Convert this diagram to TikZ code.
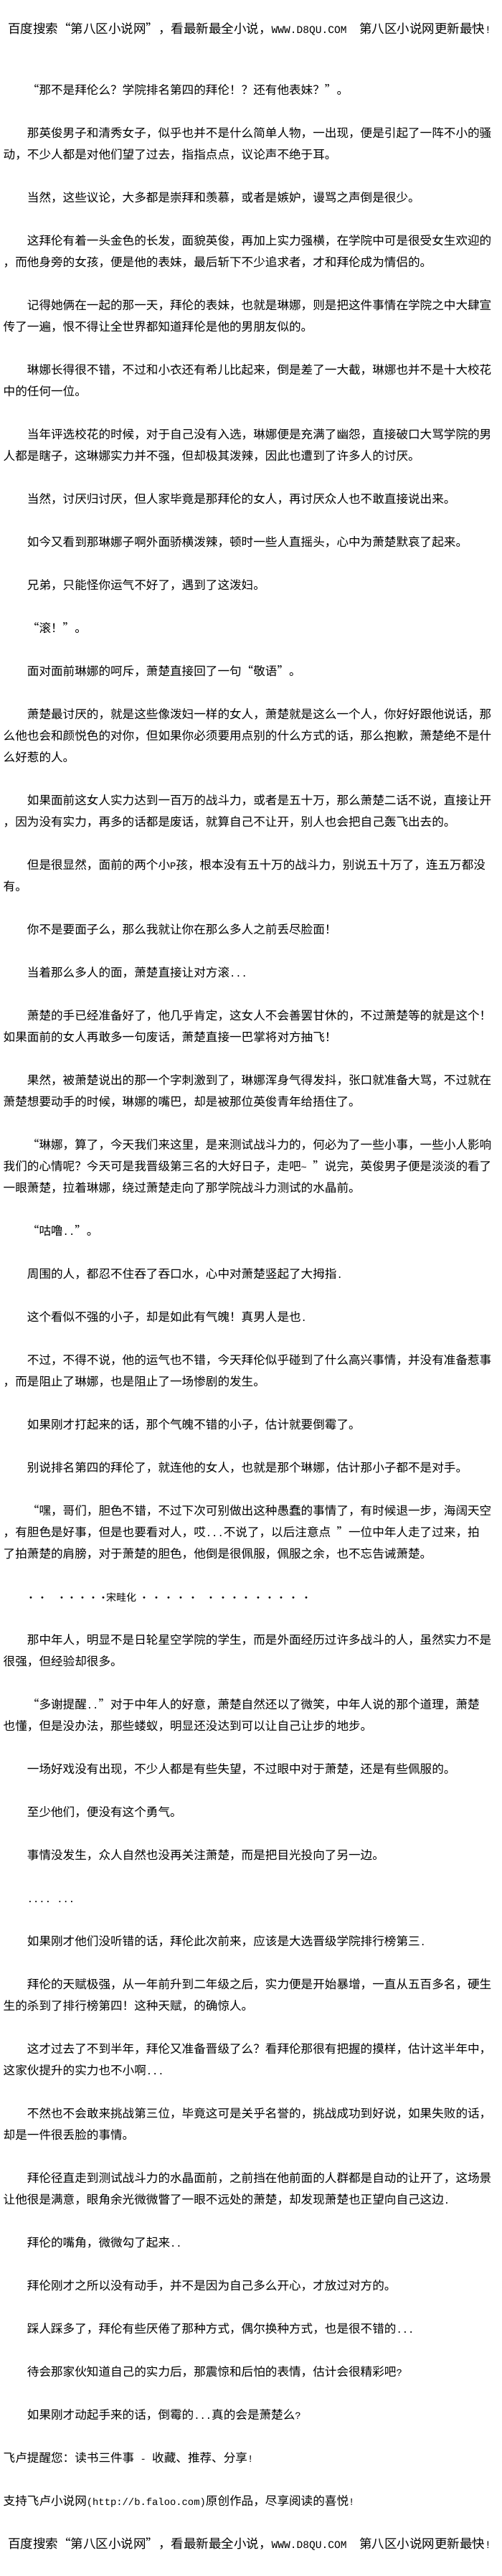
\documentclass[tikz,border=0pt]{standalone}
\usepackage{fontspec}
\setmainfont{Liberation Serif}
\newfontfamily\cjk{Noto Sans CJK SC}
\newfontfamily\mono[Scale=0.8333]{Liberation Mono}
\newfontfamily\sym{DejaVu Sans}
\newcommand{\halfw}[1]{{\mono #1}}
\begin{document}
\begin{tikzpicture}[x=1pt,y=-30pt,
  ln/.style={anchor=west,inner sep=0pt,text height=0.88em,text depth=0.12em,font=\cjk\fontsize{16.6pt}{30pt}\selectfont},
  hd/.style={ln,font=\cjk\fontsize{17.5pt}{30pt}\selectfont},
  dt/.style={anchor=center,inner sep=0pt,font=\sym\fontsize{10pt}{12pt}\selectfont}]
\path[fill=white] (0,-4.26667) rectangle (700,115.4);
\useasboundingbox (0,-4.26667) rectangle (700,115.4);
\node[hd] (head) at (11,-2.8333) {百度搜索“第八区小说网”，看最新最全小说，\halfw{WWW.D8QU.COM\ \ }第八区小说网更新最快\halfw{!}};
\node[ln] (l0) at (37.7,0) {“那不是拜伦么？学院排名第四的拜伦！？还有他表妹？”。};
\node[ln] (l2) at (37.7,2) {那英俊男子和清秀女子，似乎也并不是什么简单人物，一出现，便是引起了一阵不小的骚};
\node[ln] (l3) at (4.5,3) {动，不少人都是对他们望了过去，指指点点，议论声不绝于耳。};
\node[ln] (l5) at (37.7,5) {当然，这些议论，大多都是崇拜和羡慕，或者是嫉妒，谩骂之声倒是很少。};
\node[ln] (l7) at (37.7,7) {这拜伦有着一头金色的长发，面貌英俊，再加上实力强横，在学院中可是很受女生欢迎的};
\node[ln] (l8) at (4.5,8) {，而他身旁的女孩，便是他的表妹，最后斩下不少追求者，才和拜伦成为情侣的。};
\node[ln] (l10) at (37.7,10) {记得她俩在一起的那一天，拜伦的表妹，也就是琳娜，则是把这件事情在学院之中大肆宣};
\node[ln] (l11) at (4.5,11) {传了一遍，恨不得让全世界都知道拜伦是他的男朋友似的。};
\node[ln] (l13) at (37.7,13) {琳娜长得很不错，不过和小衣还有希儿比起来，倒是差了一大截，琳娜也并不是十大校花};
\node[ln] (l14) at (4.5,14) {中的任何一位。};
\node[ln] (l16) at (37.7,16) {当年评选校花的时候，对于自己没有入选，琳娜便是充满了幽怨，直接破口大骂学院的男};
\node[ln] (l17) at (4.5,17) {人都是瞎子，这琳娜实力并不强，但却极其泼辣，因此也遭到了许多人的讨厌。};
\node[ln] (l19) at (37.7,19) {当然，讨厌归讨厌，但人家毕竟是那拜伦的女人，再讨厌众人也不敢直接说出来。};
\node[ln] (l21) at (37.7,21) {如今又看到那琳娜子啊外面骄横泼辣，顿时一些人直摇头，心中为萧楚默哀了起来。};
\node[ln] (l23) at (37.7,23) {兄弟，只能怪你运气不好了，遇到了这泼妇。};
\node[ln] (l25) at (37.7,25) {“滚！”。};
\node[ln] (l27) at (37.7,27) {面对面前琳娜的呵斥，萧楚直接回了一句“敬语”。};
\node[ln] (l29) at (37.7,29) {萧楚最讨厌的，就是这些像泼妇一样的女人，萧楚就是这么一个人，你好好跟他说话，那};
\node[ln] (l30) at (4.5,30) {么他也会和颜悦色的对你，但如果你必须要用点别的什么方式的话，那么抱歉，萧楚绝不是什};
\node[ln] (l31) at (4.5,31) {么好惹的人。};
\node[ln] (l33) at (37.7,33) {如果面前这女人实力达到一百万的战斗力，或者是五十万，那么萧楚二话不说，直接让开};
\node[ln] (l34) at (4.5,34) {，因为没有实力，再多的话都是废话，就算自己不让开，别人也会把自己轰飞出去的。};
\node[ln] (l36) at (37.7,36) {但是很显然，面前的两个小\halfw{P}孩，根本没有五十万的战斗力，别说五十万了，连五万都没};
\node[ln] (l37) at (4.5,37) {有。};
\node[ln] (l39) at (37.7,39) {你不是要面子么，那么我就让你在那么多人之前丢尽脸面！};
\node[ln] (l41) at (37.7,41) {当着那么多人的面，萧楚直接让对方滚\halfw{...}};
\node[ln] (l43) at (37.7,43) {萧楚的手已经准备好了，他几乎肯定，这女人不会善罢甘休的，不过萧楚等的就是这个！};
\node[ln] (l44) at (4.5,44) {如果面前的女人再敢多一句废话，萧楚直接一巴掌将对方抽飞！};
\node[ln] (l46) at (37.7,46) {果然，被萧楚说出的那一个字刺激到了，琳娜浑身气得发抖，张口就准备大骂，不过就在};
\node[ln] (l47) at (4.5,47) {萧楚想要动手的时候，琳娜的嘴巴，却是被那位英俊青年给捂住了。};
\node[ln] (l49) at (37.7,49) {“琳娜，算了，今天我们来这里，是来测试战斗力的，何必为了一些小事，一些小人影响};
\node[ln] (l50) at (4.5,50) {我们的心情呢？今天可是我晋级第三名的大好日子，走吧\halfw{\textasciitilde\ }”说完，英俊男子便是淡淡的看了};
\node[ln] (l51) at (4.5,51) {一眼萧楚，拉着琳娜，绕过萧楚走向了那学院战斗力测试的水晶前。};
\node[ln] (l53) at (37.7,53) {“咕噜\halfw{..}”。};
\node[ln] (l55) at (37.7,55) {周围的人，都忍不住吞了吞口水，心中对萧楚竖起了大拇指\halfw{.}};
\node[ln] (l57) at (37.7,57) {这个看似不强的小子，却是如此有气魄！真男人是也\halfw{.}};
\node[ln] (l59) at (37.7,59) {不过，不得不说，他的运气也不错，今天拜伦似乎碰到了什么高兴事情，并没有准备惹事};
\node[ln] (l60) at (4.5,60) {，而是阻止了琳娜，也是阻止了一场惨剧的发生。};
\node[ln] (l62) at (37.7,62) {如果刚才打起来的话，那个气魄不错的小子，估计就要倒霉了。};
\node[ln] (l64) at (37.7,64) {别说排名第四的拜伦了，就连他的女人，也就是那个琳娜，估计那小子都不是对手。};
\node[ln] (l66) at (37.7,66) {“嘿，哥们，胆色不错，不过下次可别做出这种愚蠢的事情了，有时候退一步，海阔天空};
\node[ln] (l67) at (4.5,67) {，有胆色是好事，但是也要看对人，哎\halfw{...}不说了，以后注意点\halfw{\ }”一位中年人走了过来，拍};
\node[ln] (l68) at (4.5,68) {了拍萧楚的肩膀，对于萧楚的胆色，他倒是很佩服，佩服之余，也不忘告诫萧楚。};
\foreach \i/\x in {1/43,2/59,3/86,4/100,5/115,6/130,7/144,8/201,9/218,10/235,11/252,12/269,13/294,14/311,15/327,16/343,17/360,18/376,19/392,20/409,21/427}
  \node[dt] (d\i) at (\x,70) {•};
\node[ln,font=\cjk\fontsize{14pt}{16pt}\selectfont] (mark) at (148,70) {宋畦化};
\node[ln] (l72) at (37.7,72) {那中年人，明显不是日轮星空学院的学生，而是外面经历过许多战斗的人，虽然实力不是};
\node[ln] (l73) at (4.5,73) {很强，但经验却很多。};
\node[ln] (l75) at (37.7,75) {“多谢提醒\halfw{..}”对于中年人的好意，萧楚自然还以了微笑，中年人说的那个道理，萧楚};
\node[ln] (l76) at (4.5,76) {也懂，但是没办法，那些蝼蚁，明显还没达到可以让自己让步的地步。};
\node[ln] (l78) at (37.7,78) {一场好戏没有出现，不少人都是有些失望，不过眼中对于萧楚，还是有些佩服的。};
\node[ln] (l80) at (37.7,80) {至少他们，便没有这个勇气。};
\node[ln] (l82) at (37.7,82) {事情没发生，众人自然也没再关注萧楚，而是把目光投向了另一边。};
\node[ln] (l84) at (37.7,84) {\halfw{....\ ...}};
\node[ln] (l86) at (37.7,86) {如果刚才他们没听错的话，拜伦此次前来，应该是大选晋级学院排行榜第三\halfw{.}};
\node[ln] (l88) at (37.7,88) {拜伦的天赋极强，从一年前升到二年级之后，实力便是开始暴增，一直从五百多名，硬生};
\node[ln] (l89) at (4.5,89) {生的杀到了排行榜第四！这种天赋，的确惊人。};
\node[ln] (l91) at (37.7,91) {这才过去了不到半年，拜伦又准备晋级了么？看拜伦那很有把握的摸样，估计这半年中，};
\node[ln] (l92) at (4.5,92) {这家伙提升的实力也不小啊\halfw{...}};
\node[ln] (l94) at (37.7,94) {不然也不会敢来挑战第三位，毕竟这可是关乎名誉的，挑战成功到好说，如果失败的话，};
\node[ln] (l95) at (4.5,95) {却是一件很丢脸的事情。};
\node[ln] (l97) at (37.7,97) {拜伦径直走到测试战斗力的水晶面前，之前挡在他前面的人群都是自动的让开了，这场景};
\node[ln] (l98) at (4.5,98) {让他很是满意，眼角余光微微瞥了一眼不远处的萧楚，却发现萧楚也正望向自己这边\halfw{.}};
\node[ln] (l100) at (37.7,100) {拜伦的嘴角，微微勾了起来\halfw{..}};
\node[ln] (l102) at (37.7,102) {拜伦刚才之所以没有动手，并不是因为自己多么开心，才放过对方的。};
\node[ln] (l104) at (37.7,104) {踩人踩多了，拜伦有些厌倦了那种方式，偶尔换种方式，也是很不错的\halfw{...}};
\node[ln] (l106) at (37.7,106) {待会那家伙知道自己的实力后，那震惊和后怕的表情，估计会很精彩吧\halfw{?}};
\node[ln] (l108) at (37.7,108) {如果刚才动起手来的话，倒霉的\halfw{...}真的会是萧楚么\halfw{?}};
\node[ln] (l110) at (4.5,110) {飞卢提醒您：读书三件事\halfw{\ -\ }收藏、推荐、分享\halfw{!}};
\node[ln] (l112) at (4.5,112) {支持飞卢小说网\halfw{(http://b.faloo.com)}原创作品，尽享阅读的喜悦\halfw{!}};
\node[hd] (foot) at (11,114) {百度搜索“第八区小说网”，看最新最全小说，\halfw{WWW.D8QU.COM\ \ }第八区小说网更新最快\halfw{!}};
\end{tikzpicture}
\end{document}
